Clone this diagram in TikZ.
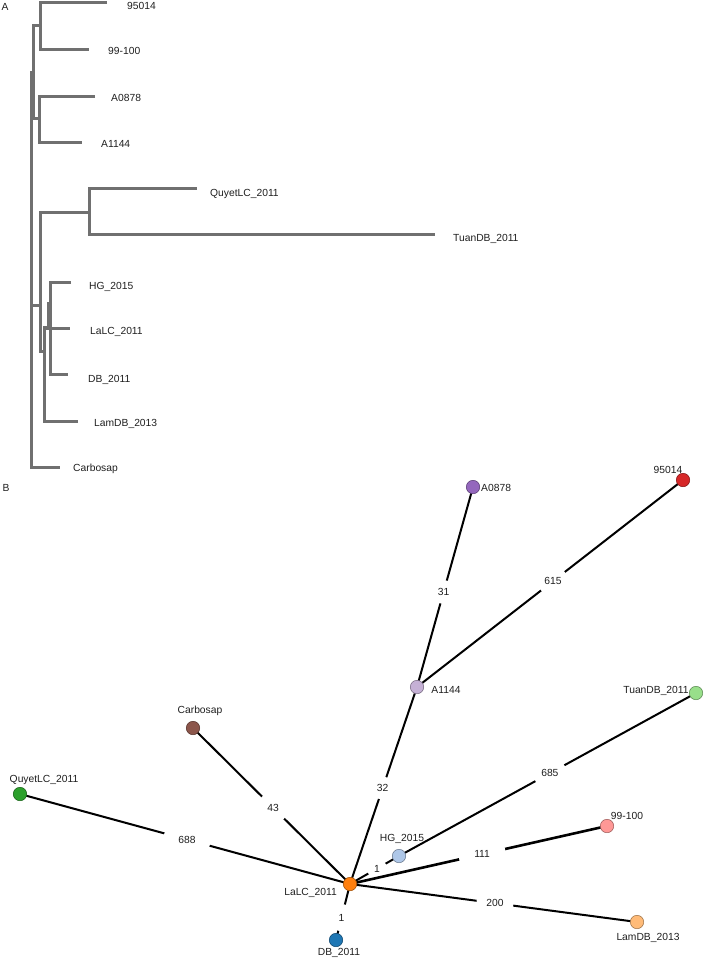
\documentclass[tikz,border=0pt]{standalone}
\usepackage{fontspec}
\setmainfont{Liberation Sans}
\usetikzlibrary{backgrounds}
\definecolor{treegray}{RGB}{112,112,112}
\definecolor{c95014}{RGB}{214,39,40}
\definecolor{c99100}{RGB}{255,152,150}
\definecolor{cA0878}{RGB}{148,103,189}
\definecolor{cA1144}{RGB}{197,176,213}
\definecolor{cQuyet}{RGB}{44,160,44}
\definecolor{cTuan}{RGB}{152,223,138}
\definecolor{cHG}{RGB}{174,199,232}
\definecolor{cLaLC}{RGB}{255,127,14}
\definecolor{cDB}{RGB}{31,119,180}
\definecolor{cLamDB}{RGB}{255,187,120}
\definecolor{cCarb}{RGB}{140,86,75}
\begin{document}
\begin{tikzpicture}[x=1pt,y=-1pt,
  treeline/.style={draw=treegray, line width=3pt, line join=miter},
  lbl/.style={font=\fontsize{10.3}{12}\selectfont, inner sep=0pt, text height=7.4pt, text depth=0pt, text=black!88},
  vnode/.style={circle, minimum size=13.4pt, inner sep=0pt, line width=0.6pt, fill=#1, draw=#1!65!black},
  link/.style={draw=black, line width=2pt},
  elab/.style={lbl, circle, fill=white, minimum size=#1}]
\useasboundingbox (0,0) rectangle (704,959);

% panel letters
\node[lbl, anchor=center] (panelA) at (5,7) {A};
\node[lbl, anchor=center] (panelB) at (6,488) {B};

% ---- panel A: tree ----
\draw[treeline] (107,2) -| (40,49) -- (89,49);
\draw[treeline] (95,96) -| (39,142) -- (82,142);
\draw[treeline] (40,25) -- (33,25) -- (33,118) -- (39,118);
\draw[treeline] (33,72) -- (31,72) -- (31,467) -- (60,467);
\draw[treeline] (197,188) -| (89,234) -- (435,234);
\draw[treeline] (89,212) -- (40,212) -- (40,351) -- (44,351);
\draw[treeline] (31,305) -- (40,305);
\draw[treeline] (78,421) -| (44,327) -- (48,327) -- (48,303) -- (50,303);
\draw[treeline] (44,328) -- (70,328);
\draw[treeline] (71,282) -| (50,374) -- (68,374);

\node[lbl, anchor=west] (t95014) at (127,6) {95014};
\node[lbl, anchor=west] (t99100) at (108,51) {99-100};
\node[lbl, anchor=west] (tA0878) at (111,98) {A0878};
\node[lbl, anchor=west] (tA1144) at (101,144) {A1144};
\node[lbl, anchor=west] (tQuyet) at (210,193) {QuyetLC\_2011};
\node[lbl, anchor=west] (tTuan) at (453,238) {TuanDB\_2011};
\node[lbl, anchor=west] (tHG) at (89,286) {HG\_2015};
\node[lbl, anchor=west] (tLaLC) at (90,331) {LaLC\_2011};
\node[lbl, anchor=west] (tDB) at (88,379) {DB\_2011};
\node[lbl, anchor=west] (tLamDB) at (94,423) {LamDB\_2013};
\node[lbl, anchor=west] (tCarb) at (73,468) {Carbosap};

% ---- panel B: network ----
\node[vnode=c95014] (n95014) at (683,480) {};
\node[vnode=cA0878] (A0878) at (473,487) {};
\node[vnode=cA1144] (A1144) at (417,687) {};
\node[vnode=cTuan] (Tuan) at (696,693) {};
\node[vnode=cCarb] (Carb) at (193,728) {};
\node[vnode=cQuyet] (Quyet) at (20,794) {};
\node[vnode=c99100] (n99) at (607,826) {};
\node[vnode=cHG] (HG) at (399,856) {};
\node[vnode=cLaLC] (LaLC) at (350,884) {};
\node[vnode=cDB] (DB) at (336,940) {};
\node[vnode=cLamDB] (LamDB) at (637,922) {};

\node[lbl] (l95014) at (668,470) {95014};
\node[lbl, anchor=west] (lA0878) at (481,488) {A0878};
\node[lbl] (lA1144) at (446,690) {A1144};
\node[lbl] (lTuan) at (656,690) {TuanDB\_2011};
\node[lbl] (lCarb) at (200,710) {Carbosap};
\node[lbl] (lQuyet) at (44,779) {QuyetLC\_2011};
\node[lbl] (l99) at (627,816) {99-100};
\node[lbl] (lHG) at (402,838) {HG\_2015};
\node[lbl, anchor=east] (lLaLC) at (337,892) {LaLC\_2011};
\node[lbl] (lDB) at (339,952) {DB\_2011};
\node[lbl] (lLamDB) at (648,937) {LamDB\_2013};

\begin{scope}[on background layer]
\draw[link] (A1144.center) -- node[elab=24pt, pos=0.475] (e31) {31} (A0878.center);
\draw[link] (A1144.center) -- node[elab=30pt, pos=0.511] (e615) {615} (n95014.center);
\draw[link] (LaLC.center) -- node[elab=23pt, pos=0.487] (e32) {32} (A1144.center);
\draw[link] (HG.center) -- node[elab=33pt, pos=0.508] (e685) {685} (Tuan.center);
\draw[link] (LaLC.center) -- node[elab=31pt, pos=0.49] (e43) {43} (Carb.center);
\draw[link] (LaLC.center) -- node[elab=47pt, pos=0.494] (e688) {688} (Quyet.center);
\draw[link] (LaLC.center) -- node[elab=27pt, pos=0.6] (e1b) {1} (DB.center);
\draw[link] (LaLC.center) -- node[elab=37pt, pos=0.505] (e200) {200} (LamDB.center);
\draw[link] (LaLC.center) -- node[elab=20pt, pos=0.55] (e1a) {1} (HG.center);
\draw[link, line width=2.6pt] (LaLC.center) -- node[elab=47pt, pos=0.514] (e111) {111} (n99.center);
\end{scope}
\end{tikzpicture}
\end{document}
